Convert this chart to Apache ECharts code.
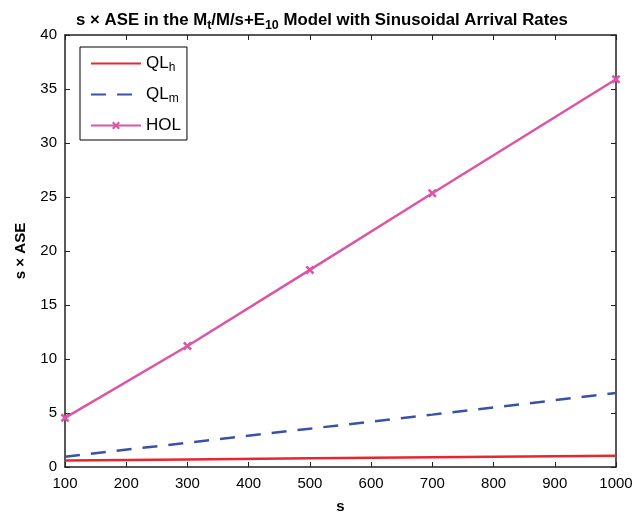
<!DOCTYPE html>
<html>
<head>
<meta charset="utf-8">
<script src="https://cdn.jsdelivr.net/npm/echarts@6/dist/echarts.min.js"></script>
<style>
  html, body { margin: 0; padding: 0; background: #fff; }
  #chart { width: 644px; height: 513px; }
</style>
</head>
<body>
<div id="chart"></div>
<script>
// values
const sValues = [100, 300, 500, 700, 1000]
const qlH = [0.6, 0.7, 0.8, 0.9, 1.05]
const qlM = [0.95, 2.25, 3.55, 4.85, 6.85]
const hol = [4.55, 11.2, 18.25, 25.35, 35.9]
const seriesNames = ['QL_h', 'QL_m', 'HOL']

const FONT = '"Liberation Sans", Arial, Helvetica, sans-serif'
const AXIS_COLOR = '#222'
const xMark = 'path://M0,2L2,0L5,3L8,0L10,2L7,5L10,8L8,10L5,7L2,10L0,8L3,5Z'

const pairs = (ys) => sValues.map((s, i) => [s, ys[i]])

const chart = echarts.init(document.getElementById('chart'))

const axisCommon = {
  axisLine: { show: true, onZero: false, lineStyle: { color: AXIS_COLOR, width: 1.5 } },
  axisTick: { show: true, inside: true, length: 5, lineStyle: { color: AXIS_COLOR, width: 1 } },
  splitLine: { show: false },
}

chart.setOption({
  animation: false,
  textStyle: { fontFamily: FONT },
  title: {
    left: 'center',
    top: 4,
    text: '{a|s × ASE in the M}{s|t}{a|/M/s+E}{s|10}{a| Model with Sinusoidal Arrival Rates}',
    textStyle: {
      rich: {
        a: { fontSize: 16.8, fontWeight: 'bold', color: '#000', fontFamily: FONT },
        s: { fontSize: 12.5, fontWeight: 'bold', color: '#000', fontFamily: FONT, padding: [10, 0, 0, 0] },
      },
    },
  },
  legend: {
    orient: 'vertical',
    left: 80,
    top: 47,
    data: [
      { name: seriesNames[0], itemStyle: { opacity: 0 } },
      { name: seriesNames[1], itemStyle: { opacity: 0 } },
      { name: seriesNames[2] },
    ],
    borderColor: '#000',
    borderWidth: 1,
    padding: [8, 6, 6, 10],
    itemWidth: 50,
    itemHeight: 10,
    itemGap: 12,
    formatter: (name) => {
      const [base, sub] = name.split('_')
      return sub ? '{a|' + base + '}{s|' + sub + '}' : '{a|' + base + '}'
    },
    textStyle: {
      rich: {
        a: { fontSize: 17, color: '#000', fontFamily: FONT },
        s: { fontSize: 12, color: '#000', fontFamily: FONT, padding: [9, 0, 0, 0] },
      },
    },
  },
  grid: { left: 65, right: 28, top: 35, bottom: 46, outerBoundsMode: 'none' },
  xAxis: [
    {
      ...axisCommon,
      type: 'value',
      min: 100,
      max: 1000,
      interval: 100,
      name: 's',
      nameLocation: 'middle',
      nameGap: 32,
      nameTextStyle: { fontSize: 15, fontWeight: 'bold', color: '#000' },
      axisLabel: { fontSize: 15, color: '#000', margin: 9, formatter: (v) => String(v) },
    },
    {
      ...axisCommon,
      type: 'value',
      position: 'top',
      min: 100,
      max: 1000,
      interval: 100,
      axisLabel: { show: false },
    },
  ],
  yAxis: [
    {
      ...axisCommon,
      type: 'value',
      min: 0,
      max: 40,
      interval: 5,
      name: 's × ASE',
      nameLocation: 'middle',
      nameGap: 37,
      nameTextStyle: { fontSize: 15, fontWeight: 'bold', color: '#000' },
      axisLabel: { fontSize: 15, color: '#000', margin: 8 },
    },
    {
      ...axisCommon,
      type: 'value',
      position: 'right',
      min: 0,
      max: 40,
      interval: 5,
      axisLabel: { show: false },
    },
  ],
  series: [
    {
      name: seriesNames[0],
      type: 'line',
      data: pairs(qlH),
      symbol: 'none',
      lineStyle: { color: '#e8262e', width: 2.5 },
      itemStyle: { color: '#e8262e' },
      z: 3,
    },
    {
      name: seriesNames[1],
      type: 'line',
      data: pairs(qlM),
      symbol: 'none',
      lineStyle: { color: '#3a52a5', width: 2.5, type: [15, 11] },
      itemStyle: { color: '#3a52a5' },
      z: 3,
    },
    {
      name: seriesNames[2],
      type: 'line',
      data: pairs(hol),
      symbol: xMark,
      symbolSize: 9,
      showAllSymbol: true,
      lineStyle: { color: '#dc55a4', width: 2.5 },
      itemStyle: { color: '#dc55a4' },
      z: 3,
    },
  ],
})
</script>
</body>
</html>
